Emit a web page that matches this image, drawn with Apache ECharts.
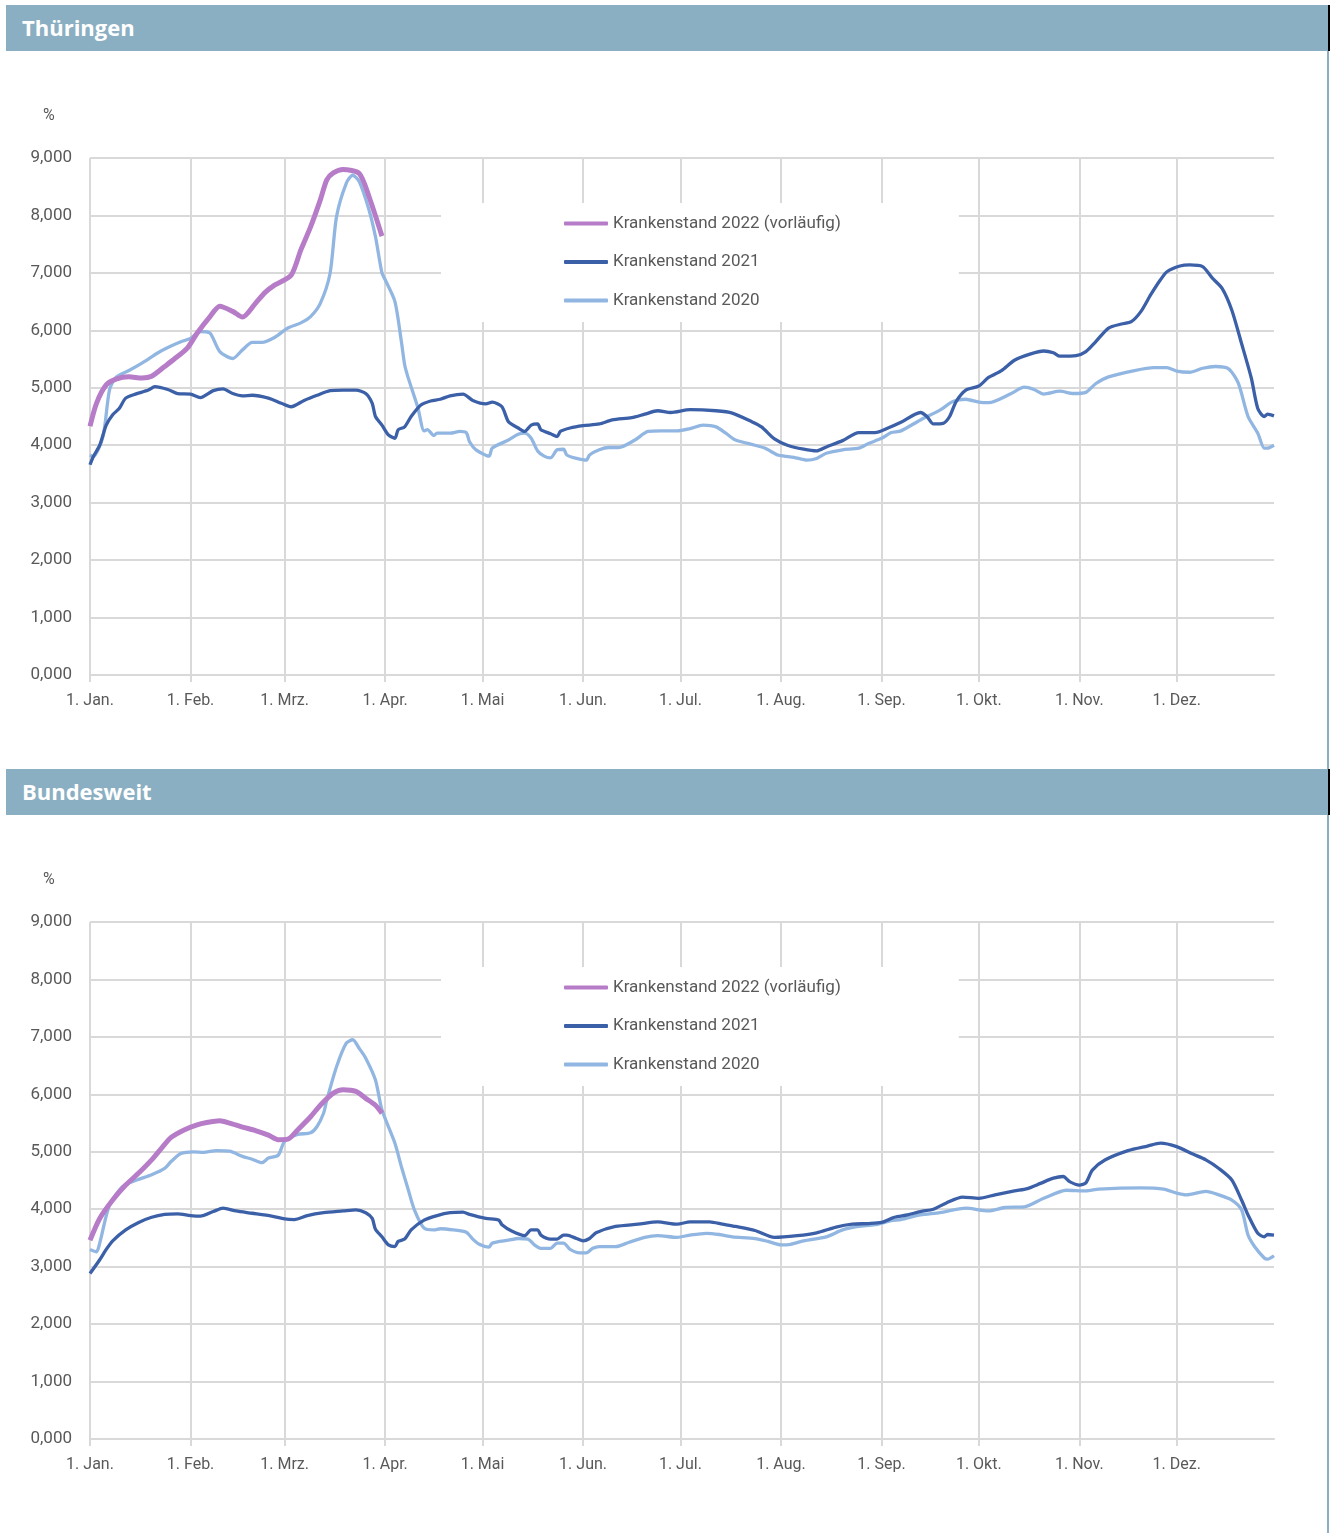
<!DOCTYPE html>
<html lang="de">
<head>
<meta charset="utf-8">
<title>Krankenstand Thüringen / Bundesweit</title>
<script src="https://cdn.jsdelivr.net/npm/echarts@6/dist/echarts.min.js"></script>
<style>
  html, body { margin: 0; padding: 0; background: #fff; }
  body { width: 1332px; height: 1533px; position: relative; overflow: hidden; }
  .bar {
    position: absolute; left: 6px; width: 1324px; height: 46px; box-sizing: border-box;
    background: #8bafc2; border-right: 2px solid #000; padding-left: 16px;
    color: #fff; font: 700 22px "Open Sans", sans-serif; line-height: 45px;
  }
  .edge { position: absolute; left: 1327px; width: 2px; top: 51px; bottom: 0; background: #8bafc2; z-index: 2; }
  .chart { position: absolute; left: 0; width: 1332px; height: 718px; }
</style>
</head>
<body>
<div class="edge"></div>
<div class="bar" style="top:5px; z-index:3">Thüringen</div>
<div id="chartTh" class="chart" style="top:51px"></div>
<div class="bar" style="top:769px; z-index:3">Bundesweit</div>
<div id="chartBw" class="chart" style="top:815px"></div>

<script>
// x-Achse: Tage eines Jahres (366 Tage), Beschriftung nur am Monatsersten
const monthLabels = ['1. Jan.', '1. Feb.', '1. Mrz.', '1. Apr.', '1. Mai', '1. Jun.',
  '1. Jul.', '1. Aug.', '1. Sep.', '1. Okt.', '1. Nov.', '1. Dez.'];
const monthStarts = [0, 31, 60, 91, 121, 152, 182, 213, 244, 274, 305, 335];
const dayCount = 366;

const seriesNames = ['Krankenstand 2022 (vorläufig)', 'Krankenstand 2021', 'Krankenstand 2020'];
const yTicks = [0, 1, 2, 3, 4, 5, 6, 7, 8, 9];

// Thüringen, [Tag, Prozent]
const th2022 = [[0,4.33],[2,4.73],[5,5.05],[8,5.15],[12,5.19],[16,5.17],[19,5.2],[23,5.37],[26,5.5],[30,5.69],
  [33,5.95],[37,6.24],[40,6.42],[44,6.33],[47,6.23],[51,6.47],[54,6.66],[57,6.79],[62,6.96],[65,7.4],[68,7.8],
  [71,8.27],[73,8.62],[75,8.74],[78,8.8],[83,8.73],[86,8.33],[90,7.64]];

const th2021 = [[0,3.66],[1,3.8],[3,4.0],[5,4.35],[7,4.53],[9,4.64],[11,4.82],[14,4.89],[18,4.96],[20,5.02],
  [24,4.97],[27,4.9],[31,4.89],[34,4.83],[38,4.95],[41,4.98],[44,4.9],[47,4.86],[50,4.87],[55,4.82],[59,4.73],
  [62,4.67],[66,4.78],[70,4.87],[74,4.95],[78,4.96],[82,4.96],[85,4.9],[87,4.73],[88,4.5],[90,4.35],[92,4.18],
  [94,4.12],[95,4.27],[97,4.32],[99,4.5],[102,4.7],[105,4.77],[108,4.8],[111,4.86],[115,4.89],[118,4.78],
  [122,4.72],[124,4.75],[127,4.67],[129,4.41],[132,4.3],[134,4.24],[136,4.35],[138,4.37],[139,4.27],[142,4.2],
  [144,4.15],[145,4.24],[148,4.3],[152,4.34],[157,4.37],[161,4.44],[167,4.48],[171,4.54],[175,4.6],[179,4.57],
  [185,4.62],[193,4.6],[198,4.56],[204,4.41],[207,4.32],[211,4.11],[215,4.0],[220,3.93],[224,3.9],[227,3.97],
  [232,4.08],[237,4.22],[242,4.22],[246,4.3],[250,4.4],[256,4.57],[258,4.5],[260,4.37],[263,4.38],[265,4.5],
  [267,4.76],[270,4.96],[274,5.03],[277,5.18],[281,5.3],[285,5.48],[290,5.59],[294,5.64],[297,5.61],[299,5.55],
  [304,5.56],[307,5.63],[310,5.8],[314,6.04],[318,6.11],[321,6.15],[324,6.33],[327,6.62],[330,6.88],[332,7.02],
  [336,7.12],[339,7.14],[343,7.11],[346,6.91],[349,6.73],[352,6.35],[355,5.77],[358,5.17],[360,4.64],[362,4.5],
  [363,4.54],[365,4.51]];

const th2020 = [[0,3.83],[1,3.8],[4,4.15],[6,4.96],[8,5.18],[12,5.3],[16,5.43],[21,5.61],[24,5.7],[28,5.8],
  [31,5.86],[34,5.98],[37,5.95],[40,5.63],[44,5.51],[47,5.66],[50,5.79],[53,5.79],[57,5.88],[61,6.04],[65,6.13],
  [68,6.24],[71,6.47],[74,6.99],[76,7.98],[79,8.56],[81,8.7],[83,8.59],[86,8.1],[88,7.63],[90,7.0],[91,6.88],
  [94,6.5],[96,5.8],[97,5.4],[98,5.19],[101,4.67],[103,4.25],[104,4.27],[106,4.17],[107,4.21],[111,4.21],
  [114,4.24],[116,4.22],[117,4.06],[119,3.92],[123,3.81],[124,3.95],[129,4.09],[132,4.19],[134,4.21],[136,4.12],
  [138,3.9],[140,3.81],[142,3.78],[144,3.92],[146,3.93],[147,3.83],[150,3.77],[153,3.74],[154,3.83],[157,3.92],
  [160,3.96],[163,3.96],[168,4.09],[172,4.24],[176,4.25],[181,4.25],[185,4.29],[189,4.35],[193,4.32],[196,4.21],
  [199,4.09],[205,4.0],[208,3.95],[212,3.83],[214,3.81],[217,3.79],[221,3.74],[224,3.77],[227,3.86],[232,3.92],
  [237,3.95],[240,4.03],[244,4.12],[247,4.22],[250,4.25],[256,4.44],[262,4.61],[266,4.76],[270,4.8],[274,4.75],
  [277,4.74],[284,4.9],[288,5.01],[291,4.97],[294,4.89],[299,4.94],[303,4.9],[307,4.92],[310,5.07],[314,5.19],
  [322,5.3],[328,5.35],[332,5.35],[335,5.29],[339,5.27],[343,5.34],[347,5.37],[351,5.33],[354,5.08],[357,4.5],
  [360,4.21],[362,3.95],[363,3.95],[365,4.0]];

// Bundesweit
const bw2022 = [[0,3.46],[3,3.84],[7,4.16],[11,4.42],[15,4.63],[19,4.86],[22,5.06],[25,5.25],[29,5.38],[33,5.47],
  [36,5.51],[40,5.54],[43,5.5],[47,5.43],[51,5.37],[55,5.29],[58,5.21],[61,5.22],[64,5.38],[68,5.61],[71,5.81],
  [75,6.02],[78,6.08],[82,6.05],[85,5.93],[88,5.81],[90,5.67]];

const bw2021 = [[0,2.88],[3,3.12],[5,3.3],[7,3.45],[11,3.64],[15,3.77],[19,3.86],[23,3.91],[27,3.92],[31,3.89],
  [34,3.88],[38,3.96],[41,4.02],[45,3.97],[50,3.93],[56,3.88],[60,3.83],[63,3.82],[67,3.89],[72,3.94],[78,3.97],
  [82,3.99],[85,3.94],[87,3.84],[88,3.65],[90,3.52],[92,3.38],[94,3.35],[95,3.44],[97,3.48],[99,3.64],[103,3.81],
  [107,3.89],[111,3.94],[115,3.95],[117,3.91],[122,3.84],[126,3.81],[127,3.73],[130,3.62],[134,3.54],[136,3.64],
  [138,3.64],[139,3.55],[142,3.48],[144,3.48],[146,3.55],[147,3.55],[150,3.49],[152,3.45],[154,3.49],[156,3.59],
  [162,3.7],[169,3.74],[175,3.78],[181,3.74],[185,3.78],[191,3.78],[195,3.74],[199,3.7],[205,3.63],[211,3.51],
  [218,3.54],[224,3.59],[230,3.69],[235,3.74],[240,3.75],[244,3.77],[248,3.86],[252,3.9],[256,3.96],[260,4.0],
  [264,4.11],[269,4.21],[274,4.19],[279,4.25],[285,4.32],[289,4.36],[293,4.45],[297,4.54],[300,4.57],[302,4.48],
  [305,4.42],[307,4.46],[309,4.68],[313,4.86],[320,5.02],[326,5.1],[330,5.15],[335,5.09],[340,4.96],[344,4.86],
  [348,4.71],[352,4.51],[355,4.16],[357,3.9],[360,3.58],[362,3.52],[363,3.56],[365,3.55]];

const bw2020 = [[0,3.3],[2,3.26],[3,3.41],[6,4.07],[10,4.39],[14,4.5],[19,4.6],[23,4.71],[25,4.83],[28,4.97],
  [32,5.0],[35,4.99],[39,5.02],[43,5.01],[47,4.92],[50,4.87],[53,4.81],[55,4.89],[58,4.94],[60,5.18],[64,5.3],
  [68,5.33],[70,5.44],[72,5.67],[73,5.9],[76,6.48],[79,6.89],[81,6.95],[83,6.8],[85,6.63],[88,6.25],[90,5.73],
  [94,5.15],[96,4.74],[98,4.36],[100,3.99],[103,3.67],[106,3.64],[108,3.66],[112,3.64],[116,3.6],[118,3.48],
  [120,3.39],[123,3.34],[124,3.41],[129,3.46],[132,3.49],[135,3.48],[137,3.38],[139,3.32],[142,3.32],[144,3.41],
  [146,3.41],[148,3.3],[151,3.24],[153,3.24],[155,3.32],[157,3.35],[162,3.35],[166,3.42],[171,3.51],[175,3.54],
  [181,3.51],[185,3.55],[190,3.58],[194,3.56],[198,3.52],[205,3.49],[209,3.44],[213,3.38],[216,3.39],[220,3.45],
  [227,3.52],[232,3.64],[237,3.7],[242,3.73],[247,3.8],[250,3.82],[256,3.9],[262,3.94],[270,4.02],[277,3.97],
  [282,4.03],[288,4.04],[294,4.19],[301,4.33],[307,4.32],[311,4.35],[324,4.37],[331,4.35],[335,4.28],[338,4.25],
  [344,4.31],[348,4.25],[352,4.16],[355,3.99],[357,3.55],[359,3.35],[362,3.15],[363,3.13],[365,3.19]];

// Kategorien für jeden Tag, nur Monatsanfänge bekommen Text
const dayLabels = [];
for (let i = 0; i < dayCount; i++) {
  const m = monthStarts.indexOf(i);
  dayLabels.push(m >= 0 ? monthLabels[m] : '');
}
const isMonthStart = (i) => monthStarts.indexOf(i) >= 0;

const gridColor = '#d9d9d9';
const textColor = '#595959';
const colors = { y2022: '#b77cc8', y2021: '#3b60a8', y2020: '#91b6e1' };

const buildOption = (d2022, d2021, d2020) => ({
  animation: false,
  textStyle: { fontFamily: 'Roboto' },
  title: {
    text: '%', left: 38, top: 52,
    textStyle: { fontSize: 16, fontWeight: 'normal', color: textColor, fontFamily: 'Roboto' }
  },
  grid: { left: 90, top: 107, width: 1184, height: 517 },
  legend: {
    data: seriesNames,
    orient: 'vertical', left: 441, top: 152,
    backgroundColor: '#fff', padding: [12, 118, 13, 123],
    icon: 'roundRect', itemWidth: 44, itemHeight: 4, itemGap: 21.5,
    textStyle: { fontSize: 17, color: textColor, fontFamily: 'Roboto' }
  },
  xAxis: {
    type: 'category', data: dayLabels, boundaryGap: false,
    axisLine: { lineStyle: { color: gridColor, width: 2 } },
    axisTick: { interval: isMonthStart, length: 7, lineStyle: { color: gridColor, width: 2 } },
    axisLabel: { interval: isMonthStart, margin: 18, fontSize: 16, color: textColor, fontFamily: 'Roboto' },
    splitLine: { show: true, interval: isMonthStart, lineStyle: { color: gridColor, width: 2 } }
  },
  yAxis: {
    type: 'value', min: yTicks[0], max: yTicks[yTicks.length - 1], interval: 1,
    axisLine: { show: false }, axisTick: { show: false },
    axisLabel: {
      margin: 18, fontSize: 17, color: textColor, fontFamily: 'Roboto', padding: [4, 0, 0, 0],
      formatter: (v) => v.toFixed(3).replace('.', ',')
    },
    splitLine: { lineStyle: { color: gridColor, width: 2 } }
  },
  series: [
    { name: seriesNames[2], type: 'line', data: d2020, symbol: 'none', smooth: 0.25,
      lineStyle: { color: colors.y2020, width: 3.3 }, itemStyle: { color: colors.y2020 } },
    { name: seriesNames[1], type: 'line', data: d2021, symbol: 'none', smooth: 0.25,
      lineStyle: { color: colors.y2021, width: 3.3 }, itemStyle: { color: colors.y2021 } },
    { name: seriesNames[0], type: 'line', data: d2022, symbol: 'none', smooth: 0.25,
      lineStyle: { color: colors.y2022, width: 5 }, itemStyle: { color: colors.y2022 } }
  ]
});

const chartTh = echarts.init(document.getElementById('chartTh'));
chartTh.setOption(buildOption(th2022, th2021, th2020));

const chartBw = echarts.init(document.getElementById('chartBw'));
chartBw.setOption(buildOption(bw2022, bw2021, bw2020));
</script>
</body>
</html>
